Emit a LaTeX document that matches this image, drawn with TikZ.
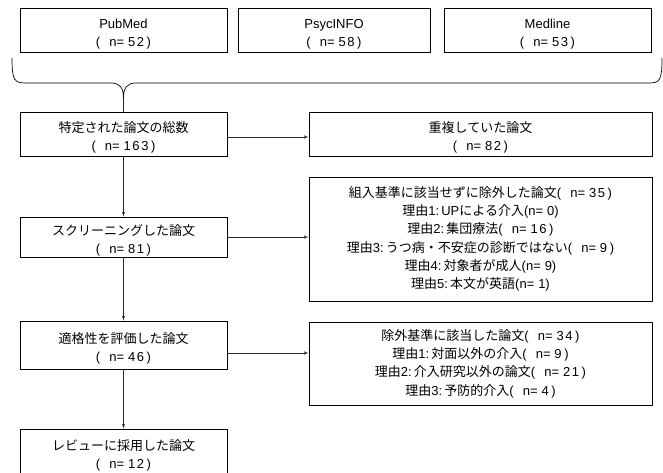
\documentclass[tikz,border=0pt]{standalone}
\usepackage{fontspec}
\setmainfont{Liberation Sans}
\newfontfamily\jp{Noto Sans CJK JP}
\usetikzlibrary{arrows,positioning}

\newcommand{\cnt}[1]{(\hspace{.7em}n=\hspace{.3em}{\addfontfeature{LetterSpace=12}#1}\hspace{.2em})}
\newcommand{\up}{\rule{0pt}{17pt}}

\begin{document}
\begin{tikzpicture}[->,>=latex',x=1pt,y=-1pt]
	\tikzstyle{every node}=[font=\fontsize{13}{18.3}\selectfont]
	\tikzstyle{box}=[draw=black,line width=0.9pt,inner sep=0pt,align=center,minimum height=44pt]
	\tikzstyle{leftbox}=[box,minimum width=207pt]
	\tikzstyle{rightbox}=[box,minimum width=343pt]
	\tikzstyle{flow}=[draw=black!85,line width=0.6pt]

	\useasboundingbox (0,0) rectangle (663,473);

	% databases
	\node[leftbox]                      (pubmed)  at (123.5,30)  {\up PubMed\\\cnt{52}};
	\node[box,minimum width=192pt]      (psyc)    at (334,30)    {\up PsycINFO\\\cnt{58}};
	\node[leftbox]                      (medline) at (547.5,30)  {\up Medline\\\cnt{53}};

	% main column
	\node[leftbox]                      (total)   at (123.5,134) {\up{\jp 特定された論文の総数}\\\cnt{163}};
	\node[leftbox,minimum height=40pt]  (screen)  at (123.5,237) {\up{\jp スクリーニングした論文}\\\cnt{81}};
	\node[leftbox,minimum height=48pt]  (elig)    at (123.5,345) {\up{\jp 適格性を評価した論文}\\\cnt{46}};
	\node[leftbox,minimum height=46pt]  (review)  at (123.5,452) {\up{\jp レビューに採用した論文}\\\cnt{12}};

	% excluded
	\node[rightbox]                     (dup)     at (480.5,134) {\up{\jp 重複していた論文}\\\cnt{82}};
	\node[rightbox,minimum height=124pt] (excla)  at (480.5,239)
		{{\jp 組入基準に該当せずに除外した論文}\cnt{35}\\
		 {\jp 理由}1:\,UP{\jp による介入}(n=\hspace{.3em}0)\\
		 {\jp 理由}2:\,{\jp 集団療法}\cnt{16}\\
		 {\jp 理由}3:\,{\jp うつ病・不安症の診断ではない}\cnt{9}\\
		 {\jp 理由}4:\,{\jp 対象者が成人}(n=\hspace{.3em}9)\\
		 {\jp 理由}5:\,{\jp 本文が英語}(n=\hspace{.3em}1)};
	\node[rightbox,minimum height=83pt] (exclb)   at (480.5,363.5)
		{{\jp 除外基準に該当した論文}\cnt{34}\\
		 {\jp 理由}1:\,{\jp 対面以外の介入}\cnt{9}\\
		 {\jp 理由}2:\,{\jp 介入研究以外の論文}\cnt{21}\\
		 {\jp 理由}3:\,{\jp 予防的介入}\cnt{4}};

	% brace under the databases
	\coordinate (tip) at (123.5,98);
	\draw[-,line width=0.7pt] (12,58) .. controls (12,80) and (14,83) .. (26,83) -- (111,83)
		.. controls (120,83) and (123.5,88) .. (tip)
		.. controls (123.5,88) and (127,83) .. (136,83) -- (649,83)
		.. controls (660,83) and (662,80) .. (662,58);
	\draw[-,flow] (tip) -- (total);

	\path (total)  edge[flow] (screen)
	      (screen) edge[flow] (elig)
	      (elig)   edge[flow] (review);
	\path ([yshift=-3pt]total.east) edge[flow] ([yshift=-3pt]total.east -| dup.west)
	      (screen.east) edge[flow] (screen.east -| excla.west)
	      ([yshift=-8pt]elig.east) edge[flow] ([yshift=-8pt]elig.east -| exclb.west);
\end{tikzpicture}
\end{document}
